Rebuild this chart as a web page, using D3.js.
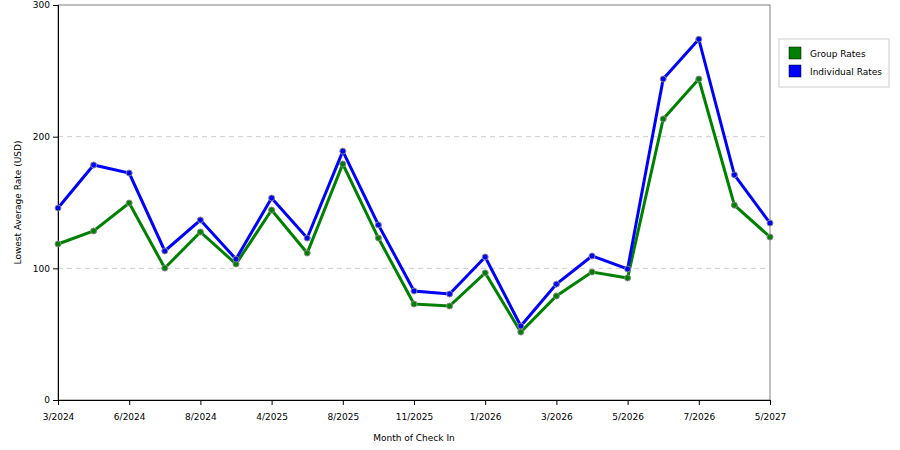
<!DOCTYPE html>
<html><head><meta charset="utf-8">
<script src="https://cdn.jsdelivr.net/npm/d3@7"></script>
<style>body{margin:0;background:#fff}text{font-family:"DejaVu Sans",sans-serif}</style>
</head><body><svg id="c" width="900" height="450"></svg>
<script>
const tickLabels=["3/2024","6/2024","8/2024","4/2025","8/2025","11/2025","1/2026","3/2026","5/2026","7/2026","5/2027"];
const groupRates=[118.5,128.4,149.6,100.2,127.6,103.3,144.3,111.6,179.2,123,72.9,71.4,96.5,51.6,79,97.2,92.7,213.4,243.8,148,123.8];
const individualRates=[145.8,178.5,172.4,113.2,136.7,107,153.4,123,189,133,82.8,80.5,108.6,56.2,88,109.4,99.5,243.8,274,171,134.4];
const yTicks=[0,100,200,300];
const svg=d3.select("#c");
const L=58,R=770,T=5,B=400;
const x=d3.scaleLinear().domain([0,groupRates.length-1]).range([L,R]);
const y=d3.scaleLinear().domain([0,300]).range([B,T]);
svg.append("rect").attr("x",L).attr("y",T).attr("width",R-L).attr("height",B-T).attr("fill","#fff").attr("stroke","#000").attr("stroke-width",0.5);
svg.append("g").selectAll("line").data([100,200]).join("line").attr("x1",L).attr("x2",R).attr("y1",d=>y(d)).attr("y2",d=>y(d)).attr("stroke","#ccc").attr("stroke-dasharray","5,4");
const ya=svg.append("g").attr("transform",`translate(${L},0)`).call(d3.axisLeft(y).tickValues(yTicks).tickSize(5).tickFormat(d3.format("d")));
const xa=svg.append("g").attr("transform",`translate(0,${B})`).call(d3.axisBottom(x).tickValues(d3.range(0,21,2)).tickSize(5).tickPadding(9).tickFormat((d,i)=>tickLabels[i]));
[ya,xa].forEach(a=>{a.selectAll("text").attr("font-size",9).attr("fill","#000");a.select(".domain").attr("stroke","#000");a.selectAll("line").attr("stroke","#000");});
svg.append("text").attr("x",(L+R)/2).attr("y",441).attr("text-anchor","middle").attr("font-size",9).text("Month of Check In");
svg.append("text").attr("transform",`translate(21,${(T+B)/2}) rotate(-90)`).attr("text-anchor","middle").attr("font-size",9).text("Lowest Average Rate (USD)");
const line=d3.line().x((d,i)=>x(i)).y(d=>y(d));
[[groupRates,"#008000"],[individualRates,"#0000ff"]].forEach(([data,c])=>{
  svg.append("path").datum(data).attr("d",line).attr("fill","none").attr("stroke",c).attr("stroke-width",3);
  svg.append("g").selectAll("circle").data(data).join("circle").attr("cx",(d,i)=>x(i)).attr("cy",d=>y(d)).attr("r",3).attr("fill",c).attr("stroke","#888").attr("stroke-width",1);
});
const lg=svg.append("g");
lg.append("rect").attr("x",779).attr("y",39).attr("width",110).attr("height",48).attr("fill","#fff").attr("stroke","#ccc");
[["Group Rates","#008000"],["Individual Rates","#0000ff"]].forEach(([t,c],i)=>{
  lg.append("rect").attr("x",789).attr("y",47+i*18).attr("width",12).attr("height",12).attr("fill",c).attr("stroke","#000").attr("stroke-width",0.5);
  lg.append("text").attr("x",810).attr("y",57+i*18).attr("font-size",9).text(t);
});
</script></body></html>
